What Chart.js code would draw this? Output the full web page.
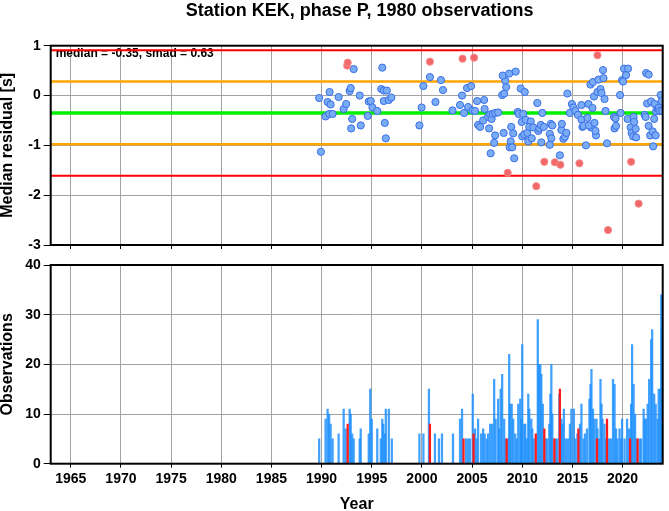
<!DOCTYPE html>
<html>
<head>
<meta charset="utf-8">
<title>Station KEK, phase P</title>
<script src="https://cdn.jsdelivr.net/npm/chart.js@4.4.1/dist/chart.umd.min.js"></script>
<style>
  html, body { margin: 0; padding: 0; background: #fff; }
  #wrap { position: relative; width: 669px; height: 511px; overflow: hidden; }
  #wrap canvas { position: absolute; left: 0; }
  #residuals { top: 0; }
  #counts { top: 255px; }
</style>
</head>
<body>
<div id="wrap">
  <canvas id="residuals" width="669" height="255"></canvas>
  <canvas id="counts" width="669" height="256"></canvas>
</div>
<script>
var stationTitle = 'Station KEK, phase P, 1980 observations';
var median = -0.35;
var smad = 0.63;
var yearMin = 1963;
var yearMax = 2024;
var yearTicks = [1965, 1970, 1975, 1980, 1985, 1990, 1995, 2000, 2005, 2010, 2015, 2020];

// median residuals kept by the filter (blue)
var goodYears = [
  1989.76, 1989.93, 1990.4, 1990.6, 1990.8, 1990.9, 1990.75, 1991.1, 1991.7, 1992.2,
  1992.45, 1992.8, 1992.9, 1993.05, 1992.95, 1993.2, 1993.8, 1993.9, 1994.6, 1994.7,
  1994.9, 1995.07, 1995.55, 1995.95, 1996.05, 1996.2, 1996.5, 1996.2, 1996.7, 1996.95,
  1996.3, 1996.4, 1999.75, 1999.97, 2000.15, 2000.8, 2001.35, 2001.9, 2002.1, 2003.05,
  2003.8, 2004.0, 2004.2, 2004.5, 2004.6, 2004.9, 2005.05, 2005.3, 2005.5, 2006.2,
  2006.25, 2005.6, 2005.8, 2006.1, 2006.6, 2006.8, 2006.95, 2006.7, 2007.05, 2007.3,
  2007.6, 2007.3, 2007.2, 2006.85, 2008.0, 2008.2, 2008.4, 2008.3, 2008.05, 2008.7,
  2009.35, 2008.15, 2008.9, 2009.1, 2008.85, 2008.75, 2009.0, 2009.2, 2009.55, 2009.65,
  2009.85, 2010.25, 2010.1, 2009.95, 2010.35, 2010.85, 2010.0, 2010.2, 2010.5, 2010.7,
  2010.6, 2010.95, 2011.1, 2011.5, 2011.6, 2011.7, 2011.85, 2012.0, 2012.15, 2011.9,
  2012.75, 2012.9, 2012.75, 2012.85, 2013.0, 2013.75, 2013.9, 2013.95, 2014.1, 2014.25,
  2014.4, 2014.5, 2014.75, 2014.95, 2015.1, 2015.3, 2015.55, 2015.9, 2016.0, 2015.9,
  2016.35, 2016.5, 2016.1, 2016.6, 2016.8, 2017.0, 2017.05, 2016.85, 2016.65, 2017.15,
  2017.2, 2017.35, 2017.3, 2017.5, 2017.6, 2017.8, 2017.9, 2018.05, 2018.1, 2018.2,
  2018.3, 2018.45, 2019.15, 2019.3, 2019.2, 2019.35, 2019.75, 2019.8, 2019.95, 2020.05,
  2020.15, 2020.35, 2020.55, 2020.5, 2020.8, 2020.9, 2021.05, 2021.1, 2021.15, 2021.35,
  2021.3, 2022.2, 2022.35, 2022.6, 2022.45, 2022.3, 2022.6, 2022.75, 2022.85, 2023.0,
  2023.05, 2023.15, 2023.2, 2023.3, 2023.35, 2023.5, 2023.6, 2023.7, 2023.8, 2023.9,
  2023.95
];
var goodResiduals = [
  -0.05, -1.13, -0.42, -0.13, 0.07, -0.18, -0.37, -0.37, -0.03, -0.27,
  -0.17, 0.09, 0.15, -0.47, -0.66, 0.53, 0.00, -0.60, -0.41, -0.12,
  -0.11, -0.24, -0.31, 0.13, 0.56, 0.10, 0.10, -0.11, -0.09, -0.04,
  -0.55, -0.86, -0.60, -0.24, 0.19, 0.37, -0.13, 0.31, 0.11, -0.30,
  -0.19, 0.00, -0.35, 0.15, -0.23, 0.19, -0.30, -0.31, -0.11, -0.09,
  -0.27, -0.59, -0.63, -0.50, -0.43, -0.38, -0.47, -0.66, -0.37, -0.35,
  -0.34, -0.80, -0.95, -1.16, 0.01, 0.04, 0.17, 0.30, 0.40, 0.44,
  0.48, -0.75, -0.63, -0.76, -0.92, -1.04, -1.04, -1.26, -0.33, -0.37,
  0.14, 0.07, -0.37, -0.53, -0.49, -0.52, -0.82, -0.78, -0.75, -0.63,
  -0.92, -0.86, -0.64, -0.15, -0.71, -0.66, -0.59, -0.35, -0.63, -0.94,
  -0.77, -0.86, -0.99, -0.57, -0.60, -1.20, -0.69, -0.57, -0.87, -0.83,
  -0.75, 0.04, -0.35, -0.17, -0.24, -0.31, -0.39, -0.48, -0.63, -0.19,
  -1.00, -0.45, -0.61, -0.17, 0.22, -0.25, 0.27, -0.64, -0.60, -0.02,
  -0.55, -0.80, -0.71, 0.07, 0.32, 0.13, 0.05, 0.51, 0.35, -0.07,
  -0.31, -0.96, -0.43, -0.46, -0.66, -0.61, 0.01, -0.35, 0.31, 0.28,
  0.54, 0.41, 0.54, -0.47, -0.64, -0.75, -0.82, -0.43, -0.53, -0.84,
  -0.67, -0.39, 0.45, 0.42, -0.16, -0.43, -0.61, -0.80, -0.12, -0.72,
  -1.02, -0.47, -0.17, -0.80, -0.32, -0.27, -0.25, -0.31, 0.01, -0.11,
  -0.31
];

// median residuals rejected (red)
var outlierYears = [1992.55, 1992.6, 2000.8, 2004.05, 2005.2, 2008.55, 2011.4, 2012.2,
  2013.25, 2013.8, 2015.7, 2017.5, 2018.55, 2020.85, 2021.6];
var outlierResiduals = [0.60, 0.66, 0.68, 0.74, 0.76, -1.55, -1.82, -1.33,
  -1.34, -1.39, -1.36, 0.81, -2.70, -1.33, -2.17];

// observations per bin
var countYears = [
  1989.76, 1990.4, 1990.6, 1990.75, 1990.9, 1991.1, 1991.7, 1992.2, 1992.4, 1992.8,
  1992.9, 1993.05, 1993.2, 1993.8, 1993.9, 1994.7, 1994.85, 1995.0, 1995.55, 1995.9,
  1996.05, 1996.15, 1996.3, 1996.4, 1996.7, 1997.0, 1999.75, 2000.15, 2000.7, 2001.3,
  2001.7, 2002.0, 2003.1, 2003.8, 2004.0, 2004.4, 2004.6, 2004.8, 2005.07, 2005.3,
  2005.45, 2005.6, 2005.9, 2006.1, 2006.25, 2006.45, 2006.6, 2006.8, 2007.0, 2007.2,
  2007.35, 2007.6, 2007.7, 2007.85, 2008.0, 2008.2, 2008.35, 2008.55, 2008.7, 2008.8,
  2008.95, 2009.1, 2009.3, 2009.45, 2009.6, 2009.8, 2009.9, 2010.0, 2010.2, 2010.3,
  2010.45, 2010.6, 2010.7, 2010.9, 2011.0, 2011.15, 2011.55, 2011.65, 2011.8, 2011.9,
  2012.05, 2012.35, 2012.5, 2012.7, 2012.8, 2012.9, 2013.0, 2013.35, 2013.5, 2013.7,
  2013.9, 2014.0, 2014.15, 2014.35, 2014.55, 2014.75, 2014.9, 2015.15, 2015.3, 2015.5,
  2015.75, 2015.9, 2016.1, 2016.25, 2016.45, 2016.7, 2016.8, 2016.9, 2017.05, 2017.2,
  2017.4, 2017.5, 2017.65, 2017.8, 2017.9, 2018.0, 2018.2, 2018.35, 2018.65, 2018.85,
  2019.05, 2019.2, 2019.35, 2019.5, 2019.7, 2019.85, 2019.95, 2020.2, 2020.45, 2020.65,
  2020.85, 2020.95, 2021.1, 2021.25, 2021.4, 2021.7, 2021.85, 2022.1, 2022.2, 2022.35,
  2022.5, 2022.65, 2022.85, 2022.95, 2023.15, 2023.3, 2023.5, 2023.6, 2023.75, 2023.85,
  2023.92
];
var counts = [
  5, 9, 11, 10, 8, 5, 6, 11, 7, 11,
  10, 6, 5, 5, 7, 6, 15, 9, 7, 5,
  9, 8, 6, 11, 11, 5, 6, 6, 15, 6,
  5, 6, 6, 9, 11, 5, 5, 5, 14, 7,
  5, 9, 6, 7, 6, 5, 6, 8, 8, 17,
  9, 13, 7, 15, 18, 9, 5, 5, 22, 12,
  12, 9, 6, 5, 12, 13, 9, 24, 8, 8,
  5, 14, 11, 9, 7, 5, 29, 20, 20, 18,
  12, 5, 5, 8, 14, 20, 10, 5, 5, 14,
  9, 8, 11, 5, 5, 8, 11, 11, 5, 6,
  8, 12, 5, 6, 7, 13, 16, 19, 11, 9,
  9, 7, 5, 17, 12, 9, 8, 5, 5, 5,
  17, 16, 7, 5, 7, 5, 9, 5, 9, 7,
  12, 24, 16, 10, 5, 5, 5, 11, 9, 9,
  12, 17, 25, 27, 14, 12, 9, 15, 15, 34,
  27
];
var outlierCountYears = [1992.6, 2000.8, 2004.15, 2005.15, 2008.45, 2011.35, 2012.2,
  2013.2, 2013.75, 2015.6, 2017.45, 2018.45, 2020.75, 2021.5];
var outlierCounts = [8, 8, 5, 6, 5, 6, 7, 5, 15, 7, 5, 9, 5, 5];

var fontFamily = '"Liberation Sans", Arial, Helvetica, sans-serif';
Chart.defaults.font.family = fontFamily;
Chart.defaults.color = '#000';

function toPoints(xs, ys) {
  var out = [];
  for (var i = 0; i < xs.length; i++) {
    out.push({ x: xs[i], y: ys[i] });
  }
  return out;
}

function levelLine(value, color, width) {
  return {
    type: 'line',
    data: [{ x: yearMin, y: value }, { x: yearMax, y: value }],
    borderColor: color,
    borderWidth: width,
    pointRadius: 0,
    order: 5
  };
}

function keepYearTicks(scale) {
  scale.ticks = yearTicks.map(function(v) { return { value: v }; });
}

// black box around the plot area, like the GMT frame
var framePlugin = {
  id: 'frame',
  afterDraw: function(chart) {
    var a = chart.chartArea;
    var ctx = chart.ctx;
    ctx.save();
    ctx.strokeStyle = '#000';
    ctx.lineWidth = 2;
    ctx.strokeRect(a.left, a.top, a.right - a.left, a.bottom - a.top);
    ctx.restore();
  }
};

var headerPlugin = {
  id: 'header',
  beforeDatasetsDraw: function(chart) {
    var a = chart.chartArea;
    var ctx = chart.ctx;
    ctx.save();
    ctx.fillStyle = '#000';
    ctx.font = 'bold 12px ' + fontFamily;
    ctx.textBaseline = 'alphabetic';
    ctx.fillText('median = ' + median.toFixed(2) + ', smad = ' + smad.toFixed(2), a.left + 5, a.top + 11.5);
    ctx.restore();
  },
  afterDraw: function(chart) {
    var a = chart.chartArea;
    var ctx = chart.ctx;
    ctx.save();
    ctx.fillStyle = '#000';
    ctx.font = 'bold 18px ' + fontFamily;
    ctx.textAlign = 'center';
    ctx.textBaseline = 'alphabetic';
    ctx.fillText(stationTitle, (a.left + a.right) / 2 + 3, 16);
    ctx.restore();
  }
};

var gridColor = '#a3a3a3';
var tickFont = { size: 14, weight: 'bold', lineHeight: 1 };
var axisTitleFont = { size: 16, weight: 'bold', lineHeight: 1 };

new Chart(document.getElementById('residuals'), {
  type: 'scatter',
  data: {
    datasets: [
      levelLine(median + 2 * smad, '#ff0000', 2),
      levelLine(median + smad, '#ffa500', 2.5),
      levelLine(median, '#00ee00', 3.5),
      levelLine(median - smad, '#ffa500', 2.5),
      levelLine(median - 2 * smad, '#ff0000', 2),
      {
        data: toPoints(goodYears, goodResiduals),
        pointRadius: 3.6,
        pointBorderWidth: 1,
        backgroundColor: '#7aacf5',
        borderColor: '#3a6ee6',
        order: 2
      },
      {
        data: toPoints(outlierYears, outlierResiduals),
        pointRadius: 3.6,
        pointBorderWidth: 1,
        backgroundColor: '#f26868',
        borderColor: '#f48c8c',
        order: 1
      }
    ]
  },
  options: {
    responsive: false,
    animation: false,
    devicePixelRatio: 1,
    layout: { padding: { left: 0, right: 6.3, top: 45.7, bottom: 0 } },
    plugins: { legend: { display: false }, tooltip: { enabled: false } },
    scales: {
      x: {
        type: 'linear',
        min: yearMin,
        max: yearMax,
        afterBuildTicks: keepYearTicks,
        ticks: { display: false },
        grid: { color: gridColor, tickColor: '#000', tickLength: 4 },
        border: { display: false },
        afterFit: function(scale) { scale.height = 7.5; }
      },
      y: {
        min: -3,
        max: 1,
        ticks: { stepSize: 1, padding: 3, font: tickFont },
        grid: { color: gridColor, tickColor: '#000', tickLength: 7 },
        border: { display: false },
        title: { display: true, text: 'Median residual [s]', font: axisTitleFont, padding: 0 },
        afterFit: function(scale) { scale.width = 50.7; }
      }
    }
  },
  plugins: [headerPlugin, framePlugin]
});

new Chart(document.getElementById('counts'), {
  type: 'bar',
  data: {
    datasets: [
      {
        data: toPoints(countYears, counts),
        backgroundColor: 'rgba(30,144,255,0.85)',
        barThickness: 1.6,
        grouped: false,
        order: 2
      },
      {
        data: toPoints(outlierCountYears, outlierCounts),
        backgroundColor: '#ff1a1a',
        barThickness: 1.6,
        grouped: false,
        order: 1
      }
    ]
  },
  options: {
    responsive: false,
    animation: false,
    devicePixelRatio: 1,
    layout: { padding: { left: 0, right: 6.3, top: 7.3, bottom: 0 } },
    plugins: { legend: { display: false }, tooltip: { enabled: false } },
    scales: {
      x: {
        type: 'linear',
        min: yearMin,
        max: yearMax,
        offset: false,
        afterBuildTicks: keepYearTicks,
        ticks: {
          autoSkip: false,
          maxRotation: 0,
          padding: 4,
          font: tickFont,
          callback: function(v) { return String(v); }
        },
        grid: { offset: false, color: gridColor, tickColor: '#000', tickLength: 4 },
        border: { display: false },
        title: { display: true, text: 'Year', font: { size: 16, weight: 'bold', lineHeight: 0.8 }, padding: 0 },
        afterFit: function(scale) { scale.height = 47.3; }
      },
      y: {
        min: 0,
        max: 40,
        ticks: { stepSize: 10, padding: 3, font: tickFont },
        grid: { color: gridColor, tickColor: '#000', tickLength: 7 },
        border: { display: false },
        title: { display: true, text: 'Observations', font: axisTitleFont, padding: 0 },
        afterFit: function(scale) { scale.width = 50.7; }
      }
    }
  },
  plugins: [framePlugin]
});
</script>
</body>
</html>
